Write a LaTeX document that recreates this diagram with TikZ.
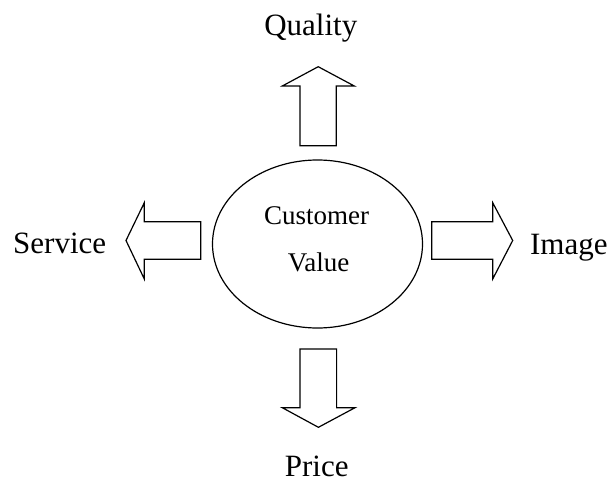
\documentclass[tikz,border=0pt]{standalone}
\usepackage{fontspec}
\setmainfont{Liberation Serif}
\usetikzlibrary{shapes.geometric}
\begin{document}
\begin{tikzpicture}[x=1pt,y=-1pt,
  outline/.style={draw=black,line width=1.2pt,line join=miter},
  lbl/.style={inner sep=0pt,anchor=base,font=\fontsize{31}{31}\selectfont},
  inner/.style={inner sep=0pt,anchor=base,font=\fontsize{27}{27}\selectfont}]
\useasboundingbox (0,0) rectangle (610,481);
% central ellipse
\node[outline,ellipse,minimum width=210pt,minimum height=168pt,inner sep=0pt] (cv) at (317.5,244) {};
\node[inner] (cust) at (316.5,224) {Customer};
\node[inner] (val) at (318.5,271.7) {Value};
% up arrow
\draw[outline] (300,145.7) -- (300,86) -- (282.3,86) -- (318.2,66.7) -- (354.3,86) -- (336.2,86) -- (336.2,145.7) -- cycle;
% down arrow
\draw[outline] (300,349) -- (300,407.7) -- (282.3,407.7) -- (318.4,427.3) -- (355,407.7) -- (336.6,407.7) -- (336.6,349) -- cycle;
% left arrow
\draw[outline] (200.7,221.7) -- (144.3,221.7) -- (144.3,202.7) -- (126,240.5) -- (144.3,279) -- (144.3,259.3) -- (200.7,259.3) -- cycle;
% right arrow
\draw[outline] (431.7,221.7) -- (492.7,221.7) -- (492.7,202.7) -- (512.7,240.5) -- (492.7,279) -- (492.7,259.3) -- (431.7,259.3) -- cycle;
% labels
\node[lbl] (quality) at (310.8,36) {Quality};
\node[lbl] (service) at (59.7,253.5) {Service};
\node[lbl] (image) at (568.8,254) {Image};
\node[lbl] (price) at (316.7,476.5) {Price};
\end{tikzpicture}
\end{document}
